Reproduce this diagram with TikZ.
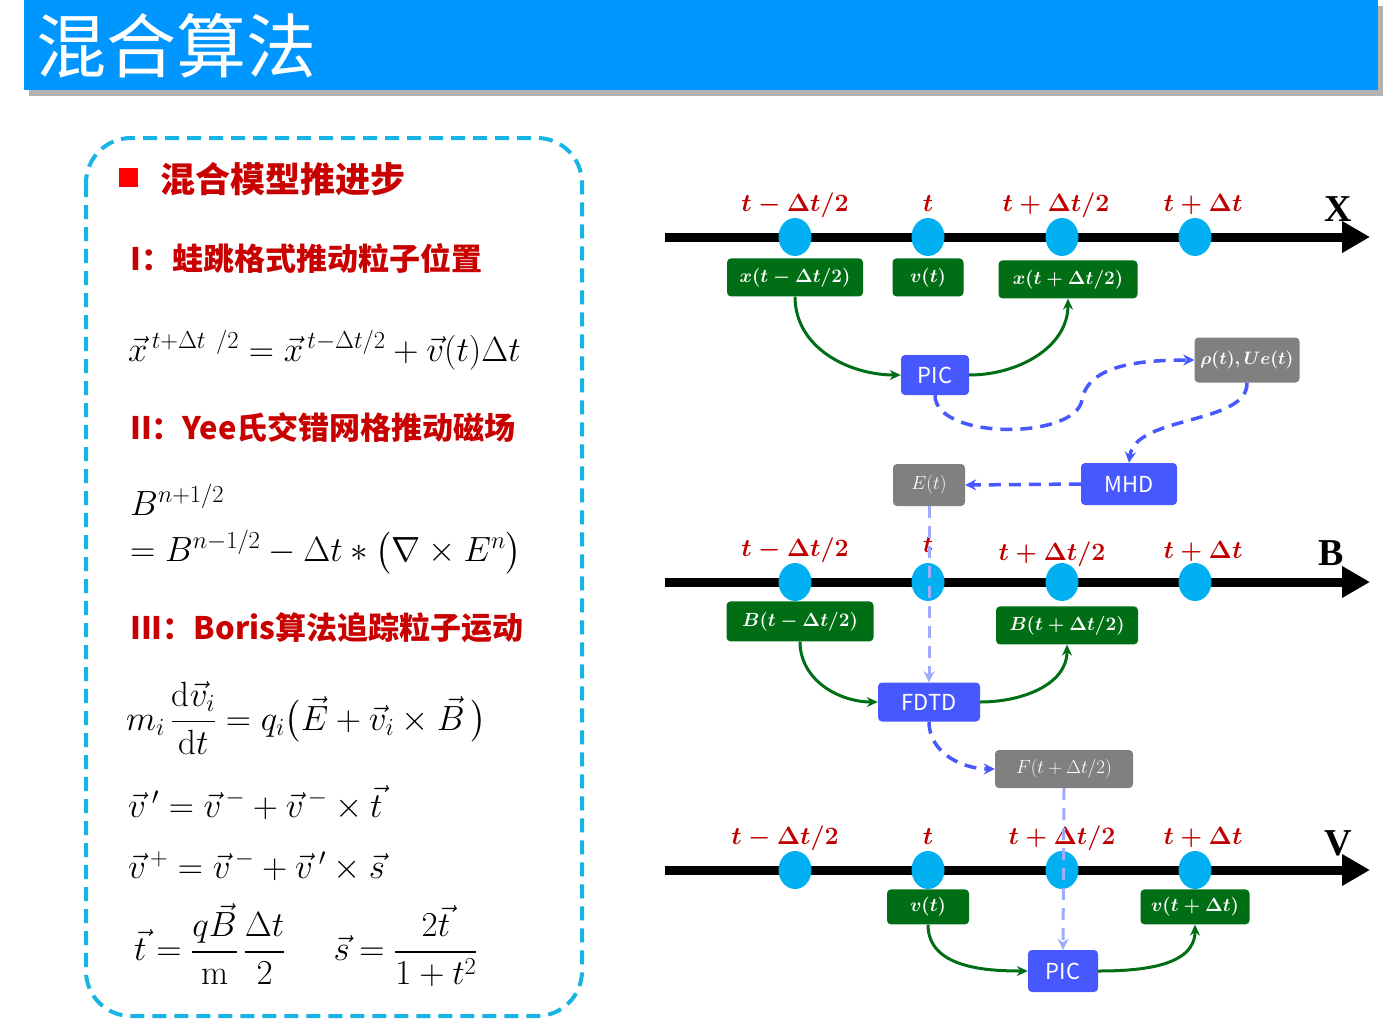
\RequirePackage{fix-cm}
\documentclass[tikz,border=0pt]{standalone}
\usepackage{amsmath, amssymb}
\usepackage{fontspec}
\usepackage{xcolor}
\usepackage{tikz}
\usetikzlibrary{positioning, arrows.meta, shapes.geometric}

\newfontfamily\cjk{Noto Sans CJK SC}
\newfontfamily\axisfont{Liberation Serif}
\newcommand{\fs}[1]{\fontsize{#1}{#1}\selectfont}

\definecolor{barblue}{RGB}{0,150,255}
\definecolor{framecyan}{RGB}{25,180,230}
\definecolor{headred}{RGB}{200,0,0}
\definecolor{tred}{RGB}{192,0,0}
\definecolor{dotcyan}{RGB}{0,176,240}
\definecolor{boxgreen}{RGB}{0,110,20}
\definecolor{boxblue}{RGB}{72,88,255}
\definecolor{boxgrey}{RGB}{128,128,128}
\definecolor{faint}{RGB}{160,170,255}

\begin{document}
\begin{tikzpicture}[
    x=1pt, y=-1pt,
    dot/.style={ellipse, fill=dotcyan, minimum width=33pt, minimum height=38pt, inner sep=0pt},
    tl/.style={text=tred, font=\fs{25}\boldmath, inner sep=0pt},
    grn/.style={rectangle, fill=boxgreen, rounded corners=4pt, text=white, minimum height=38pt, inner sep=2pt, font=\fs{19}\boldmath},
    blu/.style={rectangle, fill=boxblue, rounded corners=4pt, text=white, minimum height=40pt, inner sep=2pt, font=\cjk\fs{22}},
    gry/.style={rectangle, fill=boxgrey, rounded corners=4pt, text=white, minimum height=40pt, inner sep=2pt, font=\fs{19}},
    axis/.style={line width=9pt, -{Triangle[length=28pt, width=30pt]}},
    garr/.style={-{Stealth[length=11pt, width=10pt]}, line width=3pt, boxgreen},
    darr/.style={-{Stealth[length=11pt, width=11pt]}, line width=3.5pt, boxblue, dash pattern=on 12pt off 8pt},
    farr/.style={-{Stealth[length=11pt, width=11pt]}, line width=3pt, faint, dash pattern=on 12pt off 8pt},
    hd/.style={anchor=west, text=headred, font=\cjk\bfseries\fs{31}, inner sep=0pt},
    eq/.style={anchor=west, font=\fs{35}, inner sep=0pt},
    ax/.style={font=\axisfont\bfseries\fs{38}, inner sep=0pt},
]
    \useasboundingbox (0,0) rectangle (1400,1025);

    % title bar
    \fill[black!30] (29,6) rectangle (1383,96);
    \fill[barblue] (24,0) rectangle (1378,90);
    \node[anchor=west, text=white, font=\cjk\fs{70}, inner sep=0pt] (title) at (36,46) {混合算法};

    % left panel
    \draw[framecyan, line width=4pt, dash pattern=on 14pt off 8pt, rounded corners=45pt] (86,138) rectangle (582,1016);
    \node[fill=red, minimum size=19pt, inner sep=0pt] (sq) at (128,177) {};
    \node[hd, font=\cjk\bfseries\fs{35}] (h0) at (160,179) {混合模型推进步};
    \node[hd] (h1) at (130,258) {I：蛙跳格式推动粒子位置};
    \node[eq] (f1) at (128,350) {$\vec{x}^{\,t+\Delta t\ /2}=\vec{x}^{\,t-\Delta t/2}+\vec{v}(t)\Delta t$};
    \node[hd] (h2) at (130,428) {II：Yee氏交错网格推动磁场};
    \node[eq] (f2a) at (130,500) {$B^{n+1/2}$};
    \node[eq] (f2b) at (130,552) {$=B^{n-1/2}-\Delta t*\bigl(\nabla\times E^{n}\bigr)$};
    \node[hd] (h3) at (130,628) {III：Boris算法追踪粒子运动};
    \node[eq] (f3) at (126,718) {$m_i\,\dfrac{\mathrm{d}\vec{v}_i}{\mathrm{d}t}=q_i\bigl(\vec{E}+\vec{v}_i\times\vec{B}\,\bigr)$};
    \node[eq] (f4) at (128,803) {$\vec{v}\,'=\vec{v}^{\,-}+\vec{v}^{\,-}\times\vec{t}$};
    \node[eq] (f5) at (128,866) {$\vec{v}^{\,+}=\vec{v}^{\,-}+\vec{v}\,'\times\vec{s}$};
    \node[eq] (f6) at (134,945) {$\vec{t}=\dfrac{q\vec{B}}{\mathrm{m}}\,\dfrac{\Delta t}{2}\hspace{48pt}\vec{s}=\dfrac{\;2\vec{t}\;}{1+t^{2}}$};

    % X axis
    \coordinate (xs) at (665,237);
    \coordinate (xe) at (1370,237);
    \draw[axis] (xs) -- (xe);
    \node[dot] (x1) at (795,237) {};
    \node[dot] (x2) at (928,237) {};
    \node[dot] (x3) at (1062,237) {};
    \node[dot] (x4) at (1195,237) {};
    \node[tl, above=6pt of x1, anchor=base] (lx1) {$t-\Delta t/2$};
    \node[tl, above=6pt of x2, anchor=base] (lx2) {$t$};
    \node[tl, above=6pt of x3, anchor=base, xshift=-6pt] (lx3) {$t+\Delta t/2$};
    \node[tl, above=6pt of x4, anchor=base, xshift=8pt] (lx4) {$t+\Delta t$};
    \node[ax] (ax1) at (1338,209) {X};

    \node[grn, minimum width=136pt, below=2pt of x1] (gx1) {$x(t-\Delta t/2)$};
    \node[grn, minimum width=71pt, below=2pt of x2] (gx2) {$v(t)$};
    \node[grn, minimum width=139pt, below=4pt of x3, xshift=6pt] (gx3) {$x(t+\Delta t/2)$};
    \node[blu, minimum width=68pt] (pic1) at (935,375) {PIC};
    \node[gry, minimum width=105pt, minimum height=45pt, font=\fs{18}\boldmath] (rho) at (1247,360) {$\rho(t),Ue(t)$};
    \node[blu, minimum width=96pt, minimum height=42pt] (mhd) at (1129,484) {MHD};
    \node[gry, minimum width=72pt, minimum height=42pt] (et) at (929,485) {$E(t)$};

    % B axis
    \coordinate (bs) at (665,582);
    \coordinate (be) at (1370,582);
    \draw[axis] (bs) -- (be);
    \node[dot] (b1) at (795,582) {};
    \node[dot] (b2) at (928,582) {};
    \node[dot] (b3) at (1062,582) {};
    \node[dot] (b4) at (1195,582) {};
    \node[tl, above=6pt of b1, anchor=base] (lb1) {$t-\Delta t/2$};
    \node[tl, above=10pt of b2, anchor=base] (lb2) {$t$};
    \node[tl, above=2pt of b3, anchor=base, xshift=-10pt] (lb3) {$t+\Delta t/2$};
    \node[tl, above=4pt of b4, anchor=base, xshift=8pt] (lb4) {$t+\Delta t$};
    \node[ax] (ax2) at (1331,553) {B};

    \node[grn, minimum width=147pt, minimum height=40pt, below=0pt of b1, xshift=5pt] (gb1) {$B(t-\Delta t/2)$};
    \node[grn, minimum width=142pt, below=5pt of b3, xshift=5pt] (gb2) {$B(t+\Delta t/2)$};
    \node[blu, minimum width=102pt, minimum height=39pt] (fdtd) at (929,702) {FDTD};
    \node[gry, minimum width=138pt, minimum height=38pt] (ft) at (1064,769) {$F(t+\Delta t/2)$};

    % V axis
    \coordinate (vs) at (665,870);
    \coordinate (ve) at (1370,870);
    \draw[axis] (vs) -- (ve);
    \node[dot] (v1) at (795,870) {};
    \node[dot] (v2) at (928,870) {};
    \node[dot] (v3) at (1062,870) {};
    \node[dot] (v4) at (1195,870) {};
    \node[tl, above=6pt of v1, anchor=base, xshift=-10pt] (lv1) {$t-\Delta t/2$};
    \node[tl, above=6pt of v2, anchor=base] (lv2) {$t$};
    \node[tl, above=6pt of v3, anchor=base] (lv3) {$t+\Delta t/2$};
    \node[tl, above=6pt of v4, anchor=base, xshift=8pt] (lv4) {$t+\Delta t$};
    \node[ax] (ax3) at (1338,843) {V};

    \node[grn, minimum width=82pt, minimum height=35pt, below=0pt of v2] (gv1) {$v(t)$};
    \node[grn, minimum width=109pt, minimum height=35pt, below=0pt of v4] (gv2) {$v(t+\Delta t)$};
    \node[blu, minimum width=70pt, minimum height=42pt] (pic3) at (1063,971) {PIC};

    % green steps
    \draw[garr] (gx1.south) to[out=-90, in=180] (pic1.west);
    \draw[garr] (pic1.east) to[out=0, in=-90] (gx3.south);
    \draw[garr] (gb1.south) to[out=-90, in=180] (fdtd.west);
    \draw[garr] (fdtd.east) to[out=0, in=-90] (gb2.south);
    \draw[garr] (gv1.south) to[out=-90, in=180] (pic3.west);
    \draw[garr] (pic3.east) to[out=0, in=-90] (gv2.south);

    % coupling
    \draw[darr] (pic1.south) .. controls (935,440) and (1075,440) .. (1082,400) .. controls (1088,365) and (1140,360) .. (rho.west);
    \draw[darr] (rho.south) .. controls (1248,425) and (1135,415) .. (mhd.north);
    \draw[darr] (mhd.west) -- (et.east);
    \draw[darr] (fdtd.south) to[out=-90, in=180] (ft.west);
    \draw[farr] (et.south) -- (fdtd.north);
    \draw[farr] (ft.south) -- (pic3.north);
\end{tikzpicture}
\end{document}
